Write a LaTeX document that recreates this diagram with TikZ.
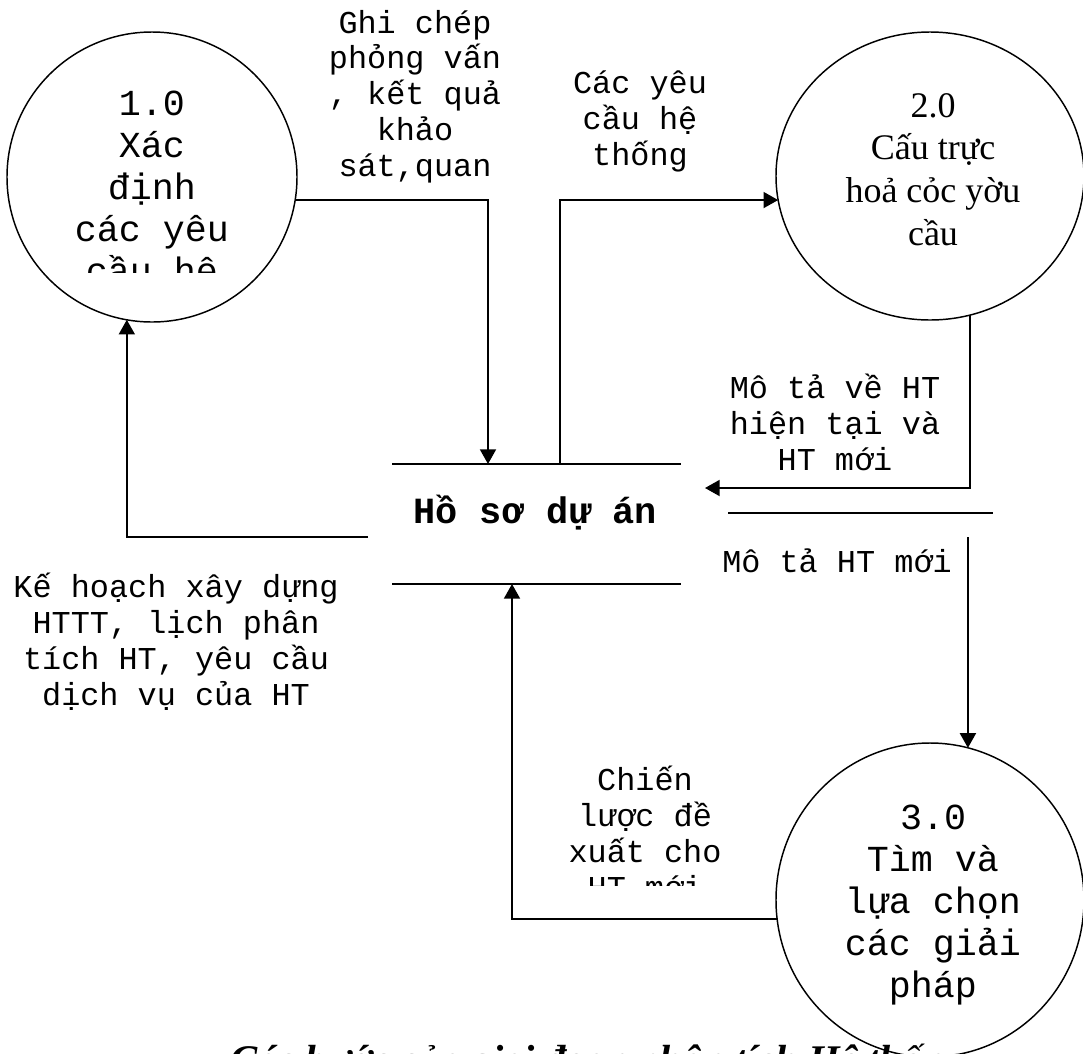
\documentclass[tikz,border=0pt]{standalone}
\usepackage{fontspec}
\usetikzlibrary{shapes.geometric,arrows.meta,calc}
\newfontfamily\couriervn{Liberation Mono}
\newfontfamily\timesvn{Liberation Serif}
\begin{document}
\begin{tikzpicture}[x=0.75pt,y=-0.75pt,
  proc/.style={draw, ellipse, line width=1.1pt, inner sep=0pt, outer sep=0pt},
  flow/.style={line width=1.4pt, -{Triangle[length=11pt,width=12pt]}},
  wire/.style={line width=1.4pt},
  % multi-line nodes are anchored at the baseline of their last line
  proctext/.style={font=\couriervn\fontsize{27.5pt}{31.5pt}\selectfont, align=center, anchor=base, inner sep=0pt},
  proctextrm/.style={font=\timesvn\fontsize{27pt}{32pt}\selectfont, align=center, anchor=base, inner sep=0pt},
  flowlabel/.style={font=\couriervn\fontsize{23.9pt}{26.8pt}\selectfont, align=center, anchor=base, inner sep=0pt},
  storebox/.style={minimum width=216.75pt, minimum height=90pt, inner sep=0pt, outer sep=0pt},
]
\useasboundingbox (0,0) rectangle (1083,1054);
\clip (0,0) rectangle (1083,1054);

% processes
\node[proc, minimum width=217.5pt, minimum height=217.5pt] (p1) at (152,177) {};
\node[proc, minimum width=231pt, minimum height=216pt] (p2) at (930,176) {};
\node[proc, minimum width=231pt, minimum height=235.5pt] (p3) at (930,900) {};

\begin{scope}
  \clip (0,0) rectangle (400,272);
  \node[proctext] (p1txt) at (152,283) {1.0\\Xác\\định\\các yêu\\cầu hệ};
\end{scope}
\node[proctextrm] (p2txt) at (933,245) {2.0\\Cấu trực\\hoả cỏc yờu\\cầu};
\node[proctext] (p3txt) at (933,997) {3.0\\Tìm và\\lựa chọn\\các giải\\pháp};

% data store
\node[storebox] (store) at (536.5,524) {};
\draw[wire] (store.north west) -- (store.north east);
\draw[wire] (store.south west) -- (store.south east);
\node[font=\couriervn\bfseries\fontsize{27.7pt}{31.5pt}\selectfont, anchor=base, inner sep=0pt] (storetxt) at (535,523) {Hồ sơ dự án};

% second store edge on the right
\coordinate (s2a) at (728,513);
\coordinate (s2b) at (993,513);
\coordinate (s2out) at (968,537);
\draw[line width=1.1pt] (s2a) -- (s2b);

% flows
\draw[flow] (p1.-9.4) -| ($(store.north west)+(96,0)$);
\draw[flow] ($(store.north west)+(168,0)$) |- (p2.189.3);
\draw[flow] (p2.-74.8) |- ($(store.north east)+(24,24)$);
\draw[flow] (s2out) -- (p3.76);
\draw[flow] (p3.187.1) -| ($(store.south west)+(120,0)$);
\draw[flow] ($(store.west)+(-24,13)$) -| (p1.260.5);

% flow labels
\node[flowlabel] (l1) at (415,176) {Ghi chép\\phỏng vấn\\, kết quả\\khảo\\sát,quan};
\node[flowlabel] (l2) at (640,165) {Các yêu\\cầu hệ\\thống};
\node[flowlabel] (l3) at (835,470) {Mô tả về HT\\hiện tại và\\HT mới};
\node[flowlabel] (l4) at (837,572) {Mô tả HT mới};
\node[flowlabel] (l5) at (176,705) {Kế hoạch xây dựng\\HTTT, lịch phân\\tích HT, yêu cầu\\dịch vụ của HT};
\begin{scope}
  \clip (480,700) rectangle (800,885);
  \node[flowlabel] (l6) at (645,898) {Chiến\\lược đề\\xuất cho\\HT mới};
\end{scope}

% caption
\node[font=\timesvn\bfseries\itshape\fontsize{30.5pt}{36pt}\selectfont, anchor=base west, inner sep=0pt] (caption) at (230,1073) {Các bước của giai đoạn phân tích Hệ thống};
\end{tikzpicture}
\end{document}
